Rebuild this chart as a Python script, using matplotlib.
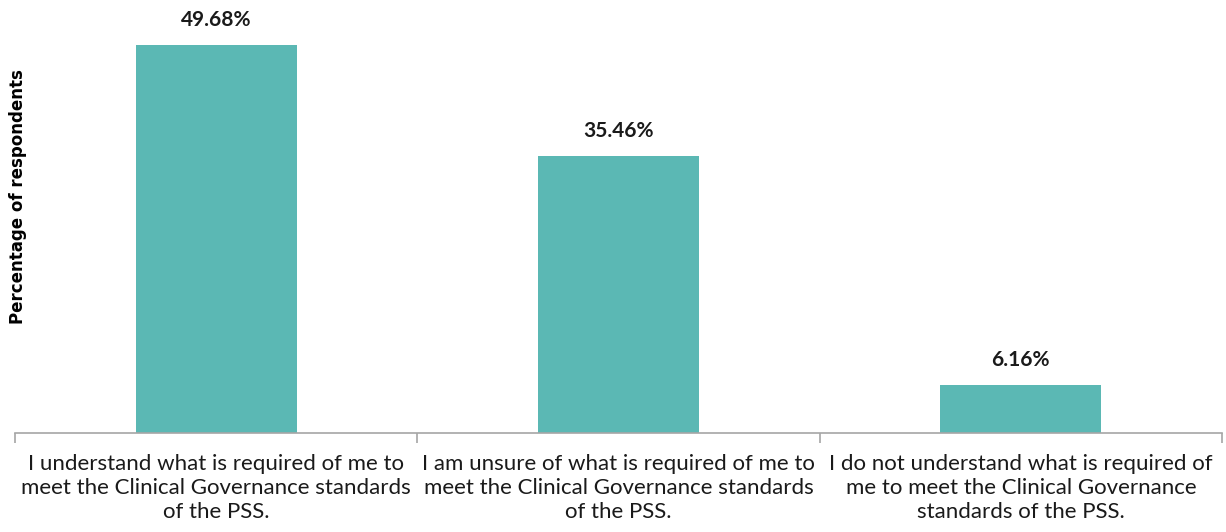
import matplotlib
matplotlib.use("Agg")
import matplotlib.pyplot as plt

# === Data ===
categories = [
    "I understand what is required of me to\nmeet the Clinical Governance standards\nof the PSS.",
    "I am unsure of what is required of me to\nmeet the Clinical Governance standards\nof the PSS.",
    "I do not understand what is required of\nme to meet the Clinical Governance\nstandards of the PSS.",
]
values = [49.68, 35.46, 6.16]
value_labels = ["49.68%", "35.46%", "6.16%"]

BAR_COLOR = "#5BB8B4"
AXIS_COLOR = "#A6A6A6"

# === Figure ===
fig = plt.figure(figsize=(12.26, 5.32), dpi=100)
ax = fig.add_axes([15 / 1226, 99 / 532, 1207 / 1226, 433 / 532])

x = list(range(len(values)))
ax.bar(x, values, width=0.4, color=BAR_COLOR)

for xi, v, lab in zip(x, values, value_labels):
    ax.annotate(lab, (xi, v), xytext=(0, 11), textcoords="offset points",
                ha="center", va="bottom", fontsize=15, fontweight="bold",
                family="Lato", color="#1a1a1a")

ax.set_xlim(-0.5, 2.5)
ax.set_ylim(0, 55.44)

# category labels at centres, boundary ticks as minor
ax.set_xticks(x)
ax.set_xticklabels(categories, fontsize=16, family="Lato", color="#1a1a1a",
                   linespacing=1.25)
ax.tick_params(axis="x", which="major", length=0, pad=15)
ax.set_xticks([-0.5, 0.5, 1.5, 2.5], minor=True)
ax.tick_params(axis="x", which="minor", length=7, width=1.2, color=AXIS_COLOR)
ax.set_yticks([])

for side in ["top", "right", "left"]:
    ax.spines[side].set_visible(False)
ax.spines["bottom"].set_color(AXIS_COLOR)
ax.spines["bottom"].set_linewidth(1.2)

fig.text(18 / 1226, 1 - 197 / 532, "Percentage of respondents", rotation=90,
         ha="center", va="center", fontsize=12, fontweight="bold",
         family="DejaVu Sans", color="black")

fig.savefig("out.png", dpi=100)
